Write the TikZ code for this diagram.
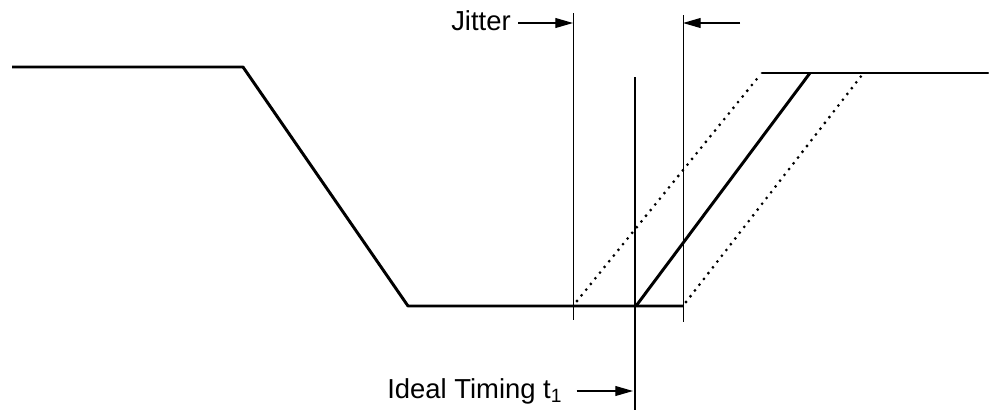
\documentclass[tikz,border=0pt]{standalone}
\usepackage{fontspec}
\setmainfont{Liberation Sans}
\usetikzlibrary{arrows.meta}

\begin{document}
\begin{tikzpicture}[
    x=0.025cm, y=-0.025cm,
    every node/.style={font=\fontsize{19.5}{22}\selectfont, inner sep=0pt},
    >={Triangle[length=12.5pt, width=7pt]},
    signal/.style={line width=2.1pt},
    jitteredge/.style={line width=2.2pt, line cap=round, dash pattern=on 0pt off 5.2pt},
    marker/.style={line width=0.6pt},
    pointer/.style={->, line width=0.8pt}
]
\useasboundingbox (0,0) rectangle (989,410);

% --- Signal ---
\draw[signal, line join=round] (12,67) -- (243,67) -- (408,306) -- (683,306);
\draw[signal] (636,306) -- (810,73);
\draw[signal, line cap=round] (762,73) -- (988,73);

% --- Jittered edges ---
\draw[jitteredge] (577,301) -- (760,75);
\draw[jitteredge] (686,302) -- (862,75);

% --- Jitter window ---
\draw[marker] (573,13) -- (573,320);
\draw[marker] (683,15) -- (683,322);
\coordinate (jitL) at (573,23);
\coordinate (jitR) at (683,23);
\coordinate (jitR0) at (740,23);
\node[anchor=base west] (jitter) at (451,30) {Jitter};
\draw[pointer] (jitter.east |- jitL) ++(5pt,0) -- (jitL);
\draw[pointer] (jitR0) -- (jitR);

% --- Ideal timing ---
\draw[signal] (635,77) -- (635,410);
\coordinate (ideal) at (633,391);
\node[anchor=base west] (timing) at (387,398) {Ideal Timing t\textsubscript{1}};
\draw[pointer] (timing.east |- ideal) ++(10pt,0) -- (ideal);

\end{tikzpicture}
\end{document}
